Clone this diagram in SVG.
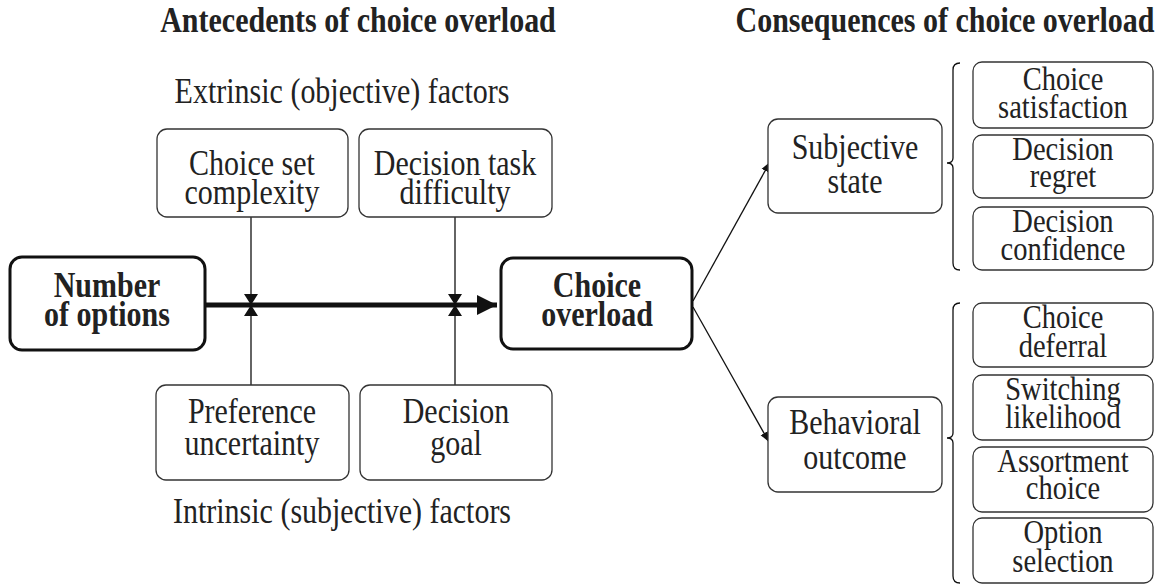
<svg xmlns="http://www.w3.org/2000/svg" width="1164" height="584" viewBox="0 0 1164 584" font-family="'Liberation Serif', 'Times New Roman', 'DejaVu Serif', serif">
<style>
text{font-family:'Liberation Serif','Times New Roman','DejaVu Serif',serif;fill:#222;text-anchor:middle}
.t{font-size:30px}
.b{font-size:30px;font-weight:bold}
.h{font-size:30px;font-weight:bold}
.s{font-size:28.5px}
.box{fill:#fff;stroke:#333;stroke-width:1.3}
.bold{fill:#fff;stroke:#111;stroke-width:3}
.ln{stroke:#111;stroke-width:1.3;fill:none}
</style>
<defs>
<marker id="ah" viewBox="0 0 10 10" refX="10" refY="5" markerWidth="10" markerHeight="10" markerUnits="userSpaceOnUse" orient="auto"><path d="M0,1 L10,5 L0,9 z" fill="#111"/></marker>
<marker id="ahb" viewBox="0 0 10 10" refX="10" refY="5" markerWidth="4" markerHeight="4" orient="auto"><path d="M0,0 L10,5 L0,10 z" fill="#111"/></marker>
</defs>
<rect width="1164" height="584" fill="#fff"/>
<text class="h" x="358" y="32" transform="matrix(1 0 0 1.2 0 -6.4)">Antecedents of choice overload</text>
<text class="h" x="945" y="32" transform="matrix(1 0 0 1.2 0 -6.4)">Consequences of choice overload</text>
<text class="t" x="342" y="103" transform="matrix(1 0 0 1.2 0 -20.6)">Extrinsic (objective) factors</text>
<text class="t" x="342" y="523" transform="matrix(1 0 0 1.2 0 -104.6)">Intrinsic (subjective) factors</text>
<g id="connectors">
<line class="ln" x1="251" y1="217" x2="251" y2="385"/>
<line class="ln" x1="455" y1="217" x2="455" y2="385"/>
<line x1="205" y1="305" x2="497" y2="305" stroke="#111" stroke-width="5" marker-end="url(#ahb)"/>
<path d="M244,294 L258,294 L251,305 z M244,316 L258,316 L251,305 z" fill="#111"/>
<path d="M448,294 L462,294 L455,305 z M448,316 L462,316 L455,305 z" fill="#111"/>
<line class="ln" x1="693" y1="301" x2="770" y2="162" marker-end="url(#ah)"/>
<line class="ln" x1="693" y1="307" x2="769" y2="442" marker-end="url(#ah)"/>
<path class="ln" d="M960,63 Q953,63 953,70 L953,158 Q953,163 947,163 Q953,163 953,168 L953,263 Q953,270 960,270"/>
<path class="ln" d="M960,303 Q953,303 953,310 L953,433 Q953,438 947,438 Q953,438 953,443 L953,576 Q953,583 960,583"/>
</g>
<g id="number-of-options"><rect class="bold" x="10" y="257" width="195" height="93" rx="12"/><text class="b" x="107" y="297" transform="matrix(1 0 0 1.2 0 -59.4)">Number</text><text class="b" x="107" y="326" transform="matrix(1 0 0 1.2 0 -65.2)">of options</text></g>
<g id="choice-overload"><rect class="bold" x="501" y="258" width="191" height="91" rx="12"/><text class="b" x="597" y="297" transform="matrix(1 0 0 1.2 0 -59.4)">Choice</text><text class="b" x="597" y="326" transform="matrix(1 0 0 1.2 0 -65.2)">overload</text></g>
<g id="choice-set-complexity"><rect class="box" x="157" y="129" width="191" height="88" rx="10"/><text class="t" x="252" y="175" transform="matrix(1 0 0 1.2 0 -35)">Choice set</text><text class="t" x="252" y="204" transform="matrix(1 0 0 1.2 0 -40.8)">complexity</text></g>
<g id="decision-task-difficulty"><rect class="box" x="359" y="129" width="193" height="88" rx="10"/><text class="t" x="455" y="175" transform="matrix(1 0 0 1.2 0 -35)">Decision task</text><text class="t" x="455" y="204" transform="matrix(1 0 0 1.2 0 -40.8)">difficulty</text></g>
<g id="preference-uncertainty"><rect class="box" x="156" y="385" width="193" height="95" rx="10"/><text class="t" x="252" y="423" transform="matrix(1 0 0 1.2 0 -84.6)">Preference</text><text class="t" x="252" y="455" transform="matrix(1 0 0 1.2 0 -91)">uncertainty</text></g>
<g id="decision-goal"><rect class="box" x="360" y="385" width="192" height="95" rx="10"/><text class="t" x="456" y="423" transform="matrix(1 0 0 1.2 0 -84.6)">Decision</text><text class="t" x="456" y="455" transform="matrix(1 0 0 1.2 0 -91)">goal</text></g>
<g id="subjective-state"><rect class="box" x="768" y="119" width="174" height="94" rx="10"/><text class="t" x="855" y="159" transform="matrix(1 0 0 1.2 0 -31.8)">Subjective</text><text class="t" x="855" y="193" transform="matrix(1 0 0 1.2 0 -38.6)">state</text></g>
<g id="behavioral-outcome"><rect class="box" x="768" y="397" width="174" height="95" rx="10"/><text class="t" x="855" y="434" transform="matrix(1 0 0 1.2 0 -86.8)">Behavioral</text><text class="t" x="855" y="469" transform="matrix(1 0 0 1.2 0 -93.8)">outcome</text></g>
<g id="choice-satisfaction"><rect class="box" x="973" y="62" width="180" height="66" rx="9"/><text class="s" x="1063" y="90" transform="matrix(1 0 0 1.2 0 -18)">Choice</text><text class="s" x="1063" y="118" transform="matrix(1 0 0 1.2 0 -23.6)">satisfaction</text></g>
<g id="decision-regret"><rect class="box" x="973" y="135" width="180" height="63" rx="9"/><text class="s" x="1063" y="160" transform="matrix(1 0 0 1.2 0 -32)">Decision</text><text class="s" x="1063" y="187" transform="matrix(1 0 0 1.2 0 -37.4)">regret</text></g>
<g id="decision-confidence"><rect class="box" x="973" y="207" width="180" height="63" rx="9"/><text class="s" x="1063" y="232" transform="matrix(1 0 0 1.2 0 -46.4)">Decision</text><text class="s" x="1063" y="260" transform="matrix(1 0 0 1.2 0 -52)">confidence</text></g>
<g id="choice-deferral"><rect class="box" x="973" y="303" width="180" height="64" rx="9"/><text class="s" x="1063" y="328" transform="matrix(1 0 0 1.2 0 -65.6)">Choice</text><text class="s" x="1063" y="357" transform="matrix(1 0 0 1.2 0 -71.4)">deferral</text></g>
<g id="switching-likelihood"><rect class="box" x="973" y="375" width="180" height="65" rx="9"/><text class="s" x="1063" y="400" transform="matrix(1 0 0 1.2 0 -80)">Switching</text><text class="s" x="1063" y="428" transform="matrix(1 0 0 1.2 0 -85.6)">likelihood</text></g>
<g id="assortment-choice"><rect class="box" x="973" y="447" width="180" height="65" rx="9"/><text class="s" x="1063" y="472" transform="matrix(1 0 0 1.2 0 -94.4)">Assortment</text><text class="s" x="1063" y="499" transform="matrix(1 0 0 1.2 0 -99.8)">choice</text></g>
<g id="option-selection"><rect class="box" x="973" y="518" width="180" height="65" rx="9"/><text class="s" x="1063" y="543" transform="matrix(1 0 0 1.2 0 -108.6)">Option</text><text class="s" x="1063" y="572" transform="matrix(1 0 0 1.2 0 -114.4)">selection</text></g>
</svg>
